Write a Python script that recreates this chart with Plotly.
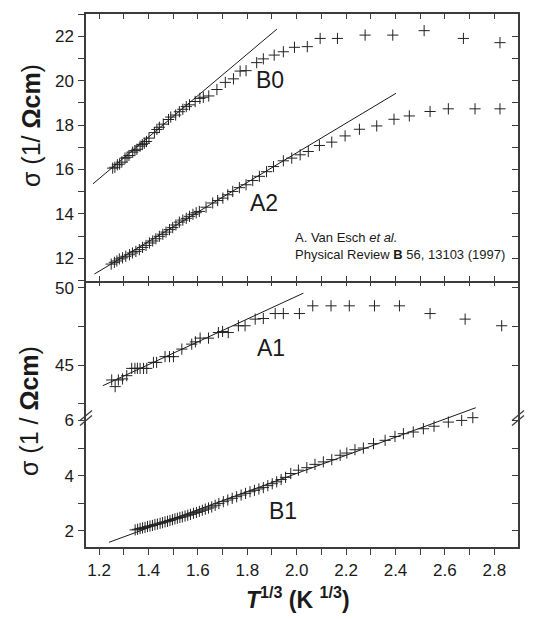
import plotly.graph_objects as go

# ---------------- data ----------------
b0_x = [1.255, 1.264, 1.274, 1.283, 1.292, 1.305, 1.313, 1.321, 1.336, 1.345, 1.353, 1.366, 1.375,
        1.383, 1.392, 1.402, 1.424, 1.434, 1.444, 1.460, 1.481, 1.490, 1.510, 1.525, 1.539, 1.553,
        1.566, 1.589, 1.608, 1.622, 1.644, 1.677, 1.711, 1.744, 1.771, 1.795, 1.838, 1.865, 1.909,
        1.946, 1.991, 2.043, 2.095, 2.165, 2.277, 2.389, 2.516, 2.675, 2.823]
b0_y = [16.06, 16.10, 16.21, 16.24, 16.33, 16.51, 16.55, 16.63, 16.78, 16.85, 16.91, 17.05, 17.12,
        17.18, 17.26, 17.41, 17.66, 17.80, 17.90, 18.04, 18.25, 18.36, 18.45, 18.60, 18.71, 18.83,
        18.91, 19.06, 19.20, 19.25, 19.31, 19.60, 19.92, 20.08, 20.43, 20.45, 20.81, 20.98, 21.15,
        21.30, 21.50, 21.53, 21.90, 21.90, 22.05, 22.05, 22.25, 21.90, 21.71]

a2_x = [1.249, 1.262, 1.272, 1.282, 1.295, 1.308, 1.323, 1.335, 1.349, 1.363, 1.376, 1.390, 1.404,
        1.417, 1.430, 1.444, 1.458, 1.471, 1.485, 1.498, 1.511, 1.525, 1.539, 1.553, 1.566, 1.580,
        1.593, 1.606, 1.633, 1.660, 1.680, 1.701, 1.721, 1.741, 1.768, 1.795, 1.822, 1.849, 1.878,
        1.906, 1.946, 1.980, 2.014, 2.047, 2.092, 2.142, 2.196, 2.254, 2.324, 2.394, 2.456, 2.540,
        2.614, 2.722, 2.823]
a2_y = [11.74, 11.82, 11.88, 11.97, 12.02, 12.09, 12.16, 12.24, 12.31, 12.39, 12.49, 12.58, 12.69,
        12.78, 12.88, 12.99, 13.08, 13.18, 13.29, 13.38, 13.50, 13.63, 13.72, 13.80, 13.89, 13.98,
        14.05, 14.11, 14.30, 14.49, 14.60, 14.71, 14.86, 15.01, 15.18, 15.31, 15.50, 15.69, 15.90,
        16.13, 16.39, 16.51, 16.66, 16.81, 17.08, 17.23, 17.51, 17.81, 17.96, 18.26, 18.41, 18.61,
        18.73, 18.73, 18.73]

a1_x = [1.251, 1.265, 1.278, 1.295, 1.312, 1.332, 1.345, 1.355, 1.366, 1.380, 1.393, 1.420, 1.433,
        1.467, 1.485, 1.501, 1.535, 1.575, 1.590, 1.609, 1.643, 1.683, 1.700, 1.723, 1.764, 1.791,
        1.832, 1.865, 1.913, 1.946, 2.011, 2.065, 2.139, 2.213, 2.315, 2.416, 2.540, 2.682, 2.830]
a1_y = [44.03, 43.60, 44.03, 44.10, 44.31, 44.78, 44.78, 44.78, 44.78, 44.78, 44.78, 45.17, 45.17,
        45.54, 45.54, 45.54, 46.03, 46.35, 46.50, 46.74, 46.74, 47.10, 47.17, 47.10, 47.54, 47.54,
        47.97, 48.01, 48.33, 48.33, 48.33, 48.83, 48.83, 48.83, 48.83, 48.83, 48.33, 47.97, 47.54]

b1_x = [1.346, 1.356, 1.366, 1.376, 1.386, 1.396, 1.406, 1.416, 1.426, 1.436, 1.447, 1.457, 1.467,
        1.477, 1.487, 1.497, 1.507, 1.517, 1.527, 1.537, 1.548, 1.559, 1.570, 1.582, 1.594, 1.606,
        1.618, 1.630, 1.643, 1.656, 1.670, 1.685, 1.703, 1.721, 1.739, 1.757, 1.775, 1.793, 1.811,
        1.829, 1.847, 1.865, 1.883, 1.901, 1.919, 1.937, 1.955, 1.976, 2.007, 2.041, 2.074, 2.108,
        2.142, 2.176, 2.203, 2.236, 2.270, 2.311, 2.358, 2.398, 2.432, 2.472, 2.513, 2.556, 2.614,
        2.668, 2.713]
b1_y = [2.04, 2.06, 2.09, 2.11, 2.13, 2.16, 2.18, 2.20, 2.23, 2.25, 2.28, 2.30, 2.33,
        2.35, 2.38, 2.41, 2.44, 2.46, 2.49, 2.51, 2.54, 2.57, 2.60, 2.64, 2.67, 2.71,
        2.75, 2.79, 2.83, 2.87, 2.93, 2.99, 3.06, 3.12, 3.18, 3.24, 3.30, 3.36, 3.42,
        3.47, 3.52, 3.57, 3.64, 3.71, 3.78, 3.86, 3.94, 4.08, 4.20, 4.29, 4.41, 4.50,
        4.58, 4.74, 4.82, 4.94, 5.00, 5.16, 5.28, 5.42, 5.52, 5.58, 5.70, 5.79, 5.94,
        6.00, 6.10]

# fitted straight lines (end points)
b0_fit_x = [1.175, 1.920]
b0_fit_y = [15.35, 22.32]
a2_fit_x = [1.181, 2.402]
a2_fit_y = [11.29, 19.43]
a1_fit_x = [1.215, 2.027]
a1_fit_y = [43.66, 49.65]
b1_fit_x = [1.240, 2.725]
b1_fit_y = [1.59, 6.46]

series_labels = ["B0", "A2", "A1", "B1"]
label_pos = {"B0": (1.892, 20.04, "y"), "A2": (1.868, 14.47, "y"),
             "A1": (1.896, 46.12, "y2"), "B1": (1.945, 2.72, "y3")}

x_ticks = [1.2, 1.4, 1.6, 1.8, 2.0, 2.2, 2.4, 2.6, 2.8]
x_ticklabels = ["1.2", "1.4", "1.6", "1.8", "2.0", "2.2", "2.4", "2.6", "2.8"]

# ---------------- figure ----------------
FONT = "Liberation Sans, Arial, sans-serif"
INK = "#1a1a1a"
AX = "#3c3c3c"
XR = [1.147, 2.896]
Y_TOP = [11.0, 23.0]
Y_A1 = [41.73, 50.47]
Y_B1 = [1.42, 6.72]

D_TOP = [0.5, 1.0]
D_A1 = [0.2467, 0.5]
D_B1 = [0.0, 0.2748]

fig = go.Figure()

mk = dict(symbol="cross-thin", size=8, line=dict(width=1, color="#222222"), color="#222222")


def pts(x, y, xa, ya):
    fig.add_trace(go.Scatter(x=x, y=y, mode="markers", marker=mk, xaxis=xa, yaxis=ya,
                             showlegend=False, hoverinfo="skip", cliponaxis=False))


def fit(x, y, xa, ya):
    fig.add_trace(go.Scatter(x=x, y=y, mode="lines", line=dict(color=INK, width=1),
                             xaxis=xa, yaxis=ya, showlegend=False, hoverinfo="skip"))


fit(b0_fit_x, b0_fit_y, "x", "y")
fit(a2_fit_x, a2_fit_y, "x", "y")
pts(b0_x, b0_y, "x", "y")
pts(a2_x, a2_y, "x", "y")
fit(a1_fit_x, a1_fit_y, "x2", "y2")
pts(a1_x, a1_y, "x2", "y2")
fit(b1_fit_x, b1_fit_y, "x2", "y3")
pts(b1_x, b1_y, "x2", "y3")

for xa, ya in [("x3", "y4"), ("x4", "y5"), ("x2", "y6")]:
    fig.add_trace(go.Scatter(x=[], y=[], xaxis=xa, yaxis=ya, showlegend=False, hoverinfo="skip"))

tickfont = dict(family=FONT, size=17, color=INK)


def line_opts(show=True):
    return dict(showline=show, linecolor=AX, linewidth=1.5, showgrid=False, zeroline=False,
                tickcolor=AX, tickwidth=1.2)


def xax(ticks, ticklen, show_line=True, **kw):
    d = dict(range=XR, tickmode="array", tickvals=x_ticks, ticktext=x_ticklabels, ticks=ticks,
             ticklen=ticklen,
             minor=dict(dtick=0.1, tick0=1.2, ticks=ticks, ticklen=ticklen, tickcolor=AX,
                        tickwidth=1.2))
    d.update(line_opts(show_line))
    d.update(kw)
    return d


fig.update_layout(
    width=534, height=619, autosize=False,
    margin=dict(l=86, r=16, t=12, b=72),
    paper_bgcolor="white", plot_bgcolor="white",
    font=dict(family=FONT, color=INK),
    xaxis=xax("inside", 5, domain=[0, 1], anchor="y", showticklabels=False),
    xaxis3=xax("inside", 5, overlaying="x", side="top", anchor="y4", matches="x",
               showticklabels=False),
    xaxis2=xax("outside", 6, domain=[0, 1], anchor="y3", showticklabels=True, tickfont=tickfont,
               ticklabelstandoff=1),
    xaxis4=xax("inside", 5, show_line=False, overlaying="x2", side="top", anchor="y5",
               matches="x2", showticklabels=False),
    yaxis=dict(domain=D_TOP, anchor="x", range=Y_TOP, tick0=12, dtick=2, ticks="outside",
               ticklen=6, tickfont=tickfont, ticklabelstandoff=1,
               minor=dict(dtick=1, tick0=11, ticks="outside", ticklen=6, tickcolor=AX, tickwidth=1.2),
               **line_opts()),
    yaxis4=dict(overlaying="y", side="right", anchor="x3", matches="y", range=Y_TOP, tick0=12,
                dtick=2, ticks="inside", ticklen=6, showticklabels=False,
                minor=dict(dtick=1, tick0=11, ticks="inside", ticklen=6, tickcolor=AX, tickwidth=1.2),
                **line_opts()),
    yaxis2=dict(domain=D_A1, anchor="x2", range=Y_A1, tick0=45, dtick=5, ticks="outside",
                ticklen=6, tickfont=tickfont, ticklabelstandoff=1,
                minor=dict(dtick=2.5, tick0=42.5, ticks="outside", ticklen=6, tickcolor=AX, tickwidth=1.2),
                **line_opts()),
    yaxis5=dict(overlaying="y2", side="right", anchor="x4", matches="y2", range=Y_A1, tick0=45,
                dtick=5, ticks="inside", ticklen=6, showticklabels=False,
                minor=dict(dtick=2.5, tick0=42.5, ticks="inside", ticklen=6, tickcolor=AX, tickwidth=1.2),
                **line_opts()),
    yaxis3=dict(domain=D_B1, anchor="x2", range=Y_B1, tickmode="array", tickvals=[2, 4, 6],
                ticks="outside", ticklen=6, tickfont=tickfont, ticklabelstandoff=1,
                minor=dict(tickvals=[3, 5], ticks="outside", ticklen=6, tickcolor=AX, tickwidth=1.2),
                **line_opts()),
    yaxis6=dict(overlaying="y3", side="right", anchor="x2", matches="y3", range=Y_B1,
                tickmode="array", tickvals=[2, 4, 6], ticks="inside", ticklen=6,
                showticklabels=False,
                minor=dict(tickvals=[3, 5], ticks="inside", ticklen=6, tickcolor=AX, tickwidth=1.2),
                **line_opts()),
)

ann = []
for lab in series_labels:
    lx, ly, yr = label_pos[lab]
    ann.append(dict(x=lx, y=ly, xref="x" if yr == "y" else "x2", yref=yr, text=lab, showarrow=False,
                    font=dict(family=FONT, size=23, color=INK), xanchor="center", yanchor="middle"))

ann.append(dict(x=1.985, y=12.94, xref="x", yref="y", text="A. Van Esch <i>et al.</i>",
                showarrow=False, xanchor="left", yanchor="middle",
                font=dict(family=FONT, size=13, color=INK)))
ann.append(dict(x=1.985, y=12.18, xref="x", yref="y",
                text="Physical Review <b>B</b> 56, 13103 (1997)",
                showarrow=False, xanchor="left", yanchor="middle",
                font=dict(family=FONT, size=13, color=INK)))

ann.append(dict(x=-0.127, y=0.79, xref="paper", yref="paper", textangle=-90,
                text="σ (1/ <b>Ωcm</b>)", showarrow=False, xanchor="center", yanchor="middle",
                font=dict(family=FONT, size=25, color=INK)))
ann.append(dict(x=-0.132, y=0.255, xref="paper", yref="paper", textangle=-90,
                text="σ (1 / <b>Ωcm</b>)", showarrow=False, xanchor="center", yanchor="middle",
                font=dict(family=FONT, size=25, color=INK)))
ann.append(dict(x=0.491, y=-0.095, xref="paper", yref="paper",
                text="<b><i>T</i><sup>1/3</sup> (K <sup>1/3</sup>)</b>", showarrow=False,
                xanchor="center", yanchor="middle", font=dict(family=FONT, size=23, color=INK)))
fig.update_layout(annotations=ann)


def brk(px_x):
    shapes = []
    for off in (0, 5):
        x0 = (px_x - 6 - 86) / 432
        x1 = (px_x + 6 - 86) / 432
        y0 = (547 - (420 + off)) / 535
        y1 = (547 - (410 + off)) / 535
        shapes.append(dict(type="line", xref="paper", yref="paper", x0=x0, x1=x1, y0=y0, y1=y1,
                           line=dict(color=AX, width=1.3)))
    return shapes


fig.update_layout(shapes=brk(86) + brk(518))

fig.write_html("out.html")
